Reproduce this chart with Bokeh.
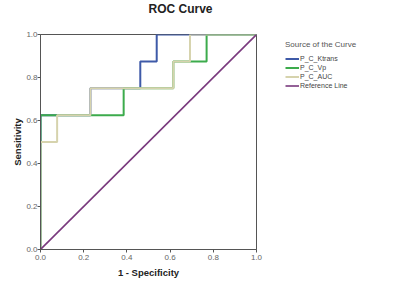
from bokeh.plotting import figure
from bokeh.models import Range1d, FixedTicker, NumeralTickFormatter, Legend, LegendItem, Title
from bokeh.embed import file_html
from bokeh.resources import INLINE

# ROC step data (1 - specificity, sensitivity)
ktrans_fpr = [0.0, 0.0, 0.231, 0.231, 0.462, 0.462, 0.538, 0.538, 1.0]
ktrans_tpr = [0.0, 0.625, 0.625, 0.75, 0.75, 0.875, 0.875, 1.0, 1.0]
vp_fpr = [0.0, 0.0, 0.385, 0.385, 0.615, 0.615, 0.769, 0.769, 1.0]
vp_tpr = [0.0, 0.625, 0.625, 0.75, 0.75, 0.875, 0.875, 1.0, 1.0]
auc_fpr = [0.0, 0.0, 0.077, 0.077, 0.231, 0.231, 0.615, 0.615, 0.692, 0.692, 1.0]
auc_tpr = [0.0, 0.5, 0.5, 0.625, 0.625, 0.75, 0.75, 0.875, 0.875, 1.0, 1.0]
ref_x = [0.0, 1.0]
ref_y = [0.0, 1.0]
ticks = [0.0, 0.2, 0.4, 0.6, 0.8, 1.0]
series_names = ["P_C_Ktrans", "P_C_Vp", "P_C_AUC", "Reference Line"]
series_colors = ["#3e5aa8", "#3cab4c", "#d6d3ad", "#7a3a7e"]

p = figure(frame_width=216, frame_height=215, output_backend="svg", toolbar_location=None,
           x_range=Range1d(0, 1), y_range=Range1d(0, 1), title="ROC Curve",
           min_border_left=40, min_border_right=144, min_border_top=34, min_border_bottom=33)
p.xgrid.visible = False
p.ygrid.visible = False
p.outline_line_color = "#555555"
p.outline_line_width = 1
p.background_fill_color = "white"
p.border_fill_color = "white"

p.title.align = "left"
p.title.offset = 108
p.title.vertical_align = "top"
p.title.standoff = 2
p.title.text_font = "Liberation Sans"
p.title.text_font_size = "12px"
p.title.text_font_style = "bold"
p.title.text_color = "#222222"

# empty spacer between the title and the plot box, lifting the title up
spacer = Title(text=" ", text_font_size="1px", standoff=13)
p.add_layout(spacer, "above")

for ax in (p.xaxis, p.yaxis):
    ax.ticker = FixedTicker(ticks=ticks)
    ax.formatter = NumeralTickFormatter(format="0.0")
    ax.axis_line_color = "#555555"
    ax.major_tick_line_color = "#555555"
    ax.minor_tick_line_color = None
    ax.major_tick_out = 3
    ax.major_tick_in = 0
    ax.major_label_text_font = "Liberation Sans"
    ax.major_label_text_font_size = "8px"
    ax.major_label_text_color = "#666666"
    ax.axis_label_text_font = "Liberation Sans"
    ax.axis_label_text_font_style = "bold"
    ax.axis_label_text_font_size = "9.5px"
    ax.axis_label_text_color = "#222222"

p.xaxis.major_label_standoff = 2
p.xaxis.axis_label_standoff = 4
p.yaxis.major_label_standoff = 0
p.yaxis.axis_label_standoff = 0

p.xaxis.axis_label = "1 - Specificity"
p.yaxis.axis_label = "Sensitivity"

r1 = p.line(ktrans_fpr, ktrans_tpr, line_color=series_colors[0], line_width=2)
r2 = p.line(vp_fpr, vp_tpr, line_color=series_colors[1], line_width=2)
r3 = p.line(auc_fpr, auc_tpr, line_color=series_colors[2], line_width=2)
r4 = p.line(ref_x, ref_y, line_color=series_colors[3], line_width=1.6)

legend = Legend(items=[LegendItem(label=n, renderers=[r]) for n, r in zip(series_names, [r1, r2, r3, r4])],
                location=(29, 159), title="Source of the Curve",
                title_text_font="Liberation Sans", title_text_font_size="8px",
                title_text_color="#555555", title_text_font_style="normal",
                label_text_font="Liberation Sans", label_text_font_size="7px",
                label_text_color="#444444", glyph_width=14, glyph_height=9,
                label_height=9, spacing=0, padding=2, margin=0,
                label_standoff=1, border_line_color=None, background_fill_alpha=0,
                title_standoff=5)
p.add_layout(legend, "right")

open("out.html", "w").write(file_html(p, INLINE))
